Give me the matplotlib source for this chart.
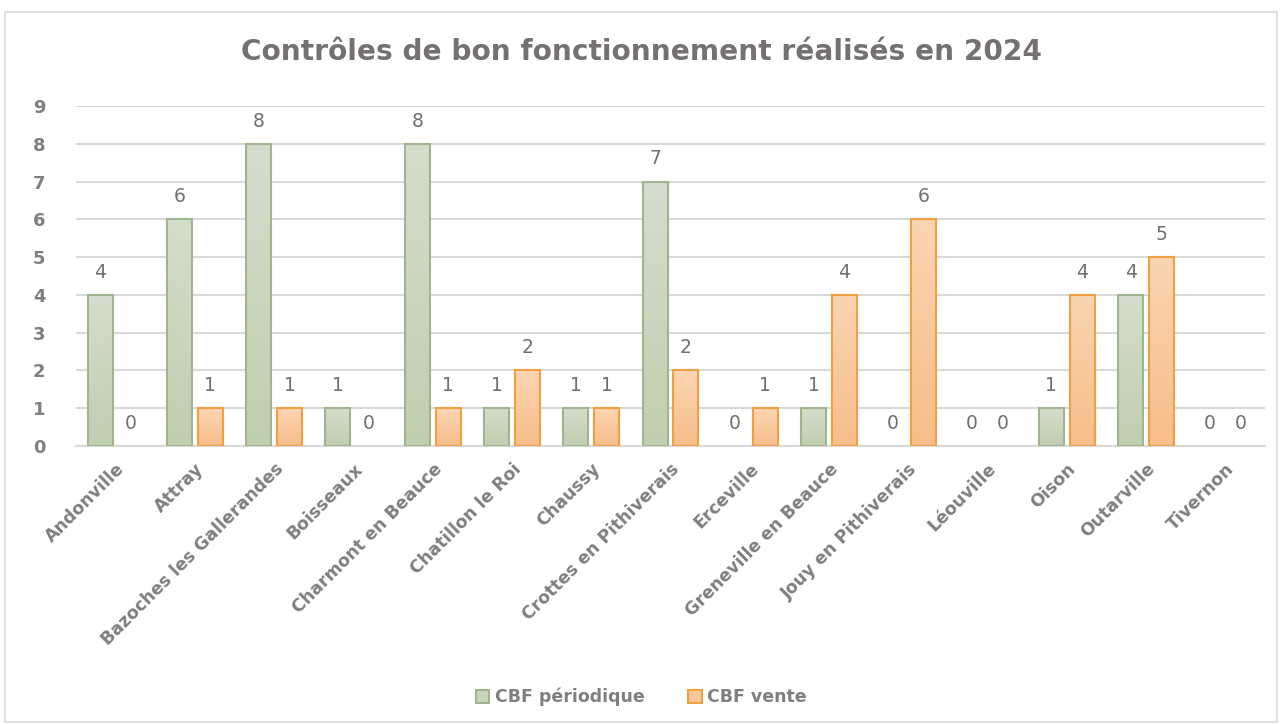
import matplotlib
matplotlib.use('Agg')
import matplotlib.pyplot as plt
import numpy as np
from matplotlib.colors import LinearSegmentedColormap
from matplotlib.patches import Rectangle

plt.rcParams['font.family'] = ['DejaVu Sans']

communes = ['Andonville', 'Attray', 'Bazoches les Gallerandes', 'Boisseaux',
            'Charmont en Beauce', 'Chatillon le Roi', 'Chaussy',
            'Crottes en Pithiverais', 'Erceville', 'Greneville en Beauce',
            'Jouy en Pithiverais', 'Léouville', 'Oison', 'Outarville', 'Tivernon']
cbf_periodique = [4, 6, 8, 1, 8, 1, 1, 7, 0, 1, 0, 0, 1, 4, 0]
cbf_vente = [0, 1, 1, 0, 1, 2, 1, 2, 1, 4, 6, 0, 4, 5, 0]

title = 'Contrôles de bon fonctionnement réalisés en 2024'
series_names = ['CBF périodique', 'CBF vente']

gray = '#7f7f7f'
green_grad = LinearSegmentedColormap.from_list('g', ['#c0ceb0', '#d5ddcc'])
orange_grad = LinearSegmentedColormap.from_list('o', ['#f7bd8a', '#fbd5b2'])
green_edge = '#9fb58e'
orange_edge = '#f0a040'

fig = plt.figure(figsize=(12.82, 7.24), dpi=100)
ax = fig.add_axes([0.0593, 0.384, 0.9274, 0.4696])

x = np.arange(len(communes))
w = 0.315
off = 0.195
grad = np.linspace(0, 1, 256).reshape(-1, 1)


def grad_bars(xs, vals, cmap, edge):
    bars = ax.bar(xs, vals, w, color='none', edgecolor=edge, linewidth=1.5, zorder=3)
    for b, v in zip(bars, vals):
        if v <= 0:
            b.set_visible(False)
            continue
        bx, by = b.get_x(), b.get_y()
        im = ax.imshow(grad, cmap=cmap, aspect='auto', origin='lower',
                       extent=[bx, bx + b.get_width(), by, by + b.get_height()],
                       zorder=2)
        im.set_clip_path(b)
    for xx, v in zip(xs, vals):
        ax.text(xx, v + 0.35, str(v), ha='center', va='bottom',
                fontsize=13.5, color='#6f6f6f', zorder=4)
    return bars


b1 = grad_bars(x - off, cbf_periodique, green_grad, green_edge)
b2 = grad_bars(x + off, cbf_vente, orange_grad, orange_edge)

ax.set_xlim(-0.5, len(communes) - 0.5)
ax.set_ylim(0, 9)
ax.set_yticks(range(0, 10))
ax.yaxis.grid(True, color='#d9d9d9', linewidth=1.5, zorder=0)
ax.set_axisbelow(True)
for s in ['top', 'right', 'left']:
    ax.spines[s].set_visible(False)
ax.spines['bottom'].set_color('#d9d9d9')
ax.spines['bottom'].set_linewidth(1.5)
ax.tick_params(axis='both', length=0)
ax.tick_params(axis='y', pad=22)
ax.set_xticks(x)
ax.set_xticklabels(communes, rotation=45, ha='right', rotation_mode='anchor',
                   fontsize=12.5, fontweight='bold', color=gray)
for t in ax.get_yticklabels():
    t.set_fontsize(13)
    t.set_fontweight('bold')
    t.set_color(gray)
ax.tick_params(axis='x', pad=10)

fig.text(0.5, 0.928, title, ha='center', va='center', fontsize=20.2,
         fontweight='bold', color='#767171')

h1 = Rectangle((0, 0), 1, 1, facecolor='#c9d4bd', edgecolor=green_edge, linewidth=1.5)
h2 = Rectangle((0, 0), 1, 1, facecolor='#f9c89e', edgecolor=orange_edge, linewidth=1.5)
leg = fig.legend([h1, h2], series_names, loc='center', bbox_to_anchor=(0.5, 0.037),
                 ncol=2, frameon=False, handlelength=0.8, handleheight=0.8,
                 handletextpad=0.3, columnspacing=2.5,
                 prop={'size': 12.5, 'weight': 'bold'})
for t in leg.get_texts():
    t.set_color(gray)

fig.patches.append(Rectangle((0.004, 0.003), 0.992, 0.98, transform=fig.transFigure,
                             fill=False, edgecolor='#d9d9d9', linewidth=1.2))

fig.savefig('out.png', dpi=100)
